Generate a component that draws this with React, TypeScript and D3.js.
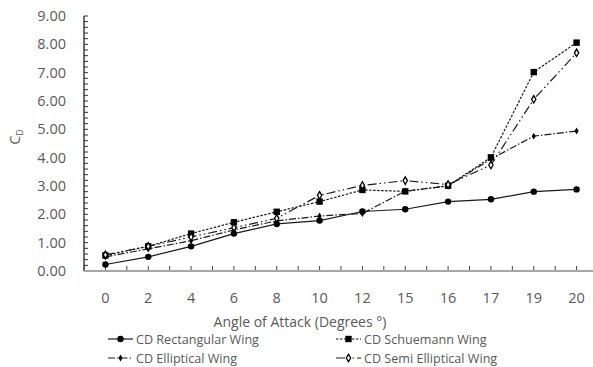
import React, { useRef, useEffect } from "react";
import * as d3 from "d3";

const angles = ["0", "2", "4", "6", "8", "10", "12", "15", "16", "17", "19", "20"];
const rectangular = [0.23, 0.5, 0.87, 1.32, 1.66, 1.78, 2.1, 2.18, 2.45, 2.53, 2.8, 2.88];
const schuemann = [0.55, 0.87, 1.32, 1.72, 2.09, 2.45, 2.86, 2.81, 3.01, 4.01, 7.02, 8.06];
const elliptical = [0.5, 0.78, 1.07, 1.45, 1.77, 1.94, 2.03, 2.82, 3.0, 3.95, 4.76, 4.94];
const semiElliptical = [0.57, 0.87, 1.2, 1.53, 1.86, 2.67, 3.02, 3.19, 3.05, 3.74, 6.06, 7.7];
const yTicks = [0, 1, 2, 3, 4, 5, 6, 7, 8, 9];

const seriesNames = [
  "CD Rectangular Wing",
  "CD Schuemann Wing",
  "CD Elliptical Wing",
  "CD Semi Elliptical Wing",
];

const FONT = "'Open Sans', sans-serif";

function App() {
  const ref = useRef<SVGSVGElement>(null);

  useEffect(() => {
    const svg = d3.select(ref.current);
    svg.selectAll("*").remove();

    const left = 84;
    const right = 598;
    const top = 16;
    const bottom = 271;

    const x = d3.scaleBand().domain(angles).range([left, right]);
    const y = d3.scaleLinear().domain([0, 9]).range([bottom, top]);
    const cx = (a) => x(a) + x.bandwidth() / 2;

    // y minor ticks every 0.2, drawn inside
    const g = svg.append("g");
    d3.range(0, 9.001, 0.2).forEach((v) => {
      g.append("line")
        .attr("x1", left)
        .attr("x2", left + 4)
        .attr("y1", y(v))
        .attr("y2", y(v))
        .attr("stroke", "#333")
        .attr("stroke-width", 1);
    });
    g.append("line")
      .attr("x1", left)
      .attr("x2", left)
      .attr("y1", top)
      .attr("y2", bottom)
      .attr("stroke", "#222")
      .attr("stroke-width", 1.3);

    g.selectAll(".ylab")
      .data(yTicks)
      .enter()
      .append("text")
      .attr("x", 66)
      .attr("y", (d) => y(d) + 5)
      .attr("text-anchor", "end")
      .attr("font-family", FONT)
      .attr("font-size", 14.5)
      .attr("fill", "#595959")
      .text((d) => d.toFixed(2));

    // x axis ticks at band edges and centres
    angles.forEach((a) => {
      [x(a), cx(a)].forEach((px) => {
        g.append("line")
          .attr("x1", px)
          .attr("x2", px)
          .attr("y1", bottom)
          .attr("y2", bottom - 5)
          .attr("stroke", "#444")
          .attr("stroke-width", 1);
      });
    });
    g.append("line")
      .attr("x1", left)
      .attr("x2", right)
      .attr("y1", bottom)
      .attr("y2", bottom)
      .attr("stroke", "#a6a6a6")
      .attr("stroke-width", 2);

    g.selectAll(".xlab")
      .data(angles)
      .enter()
      .append("text")
      .attr("x", (d) => cx(d))
      .attr("y", 303)
      .attr("text-anchor", "middle")
      .attr("font-family", FONT)
      .attr("font-size", 14.5)
      .attr("fill", "#595959")
      .text((d) => d);

    svg
      .append("text")
      .attr("x", 300)
      .attr("y", 327)
      .attr("text-anchor", "middle")
      .attr("font-family", FONT)
      .attr("font-size", 14)
      .attr("fill", "#595959")
      .text("Angle of Attack (Degrees °)");

    const yt = svg
      .append("text")
      .attr("transform", "translate(20,137) rotate(-90)")
      .attr("text-anchor", "middle")
      .attr("font-family", FONT)
      .attr("font-size", 14.5)
      .attr("fill", "#595959");
    yt.append("tspan").text("C");
    yt.append("tspan").attr("font-size", 9).attr("dy", 3).text("D");

    const styles = [
      { dash: null, marker: "circle", data: rectangular },
      { dash: "2.5,1.5", marker: "square", data: schuemann },
      { dash: "7,2,1.5,2", marker: "smallDiamond", data: elliptical },
      { dash: "9,3,1.5,3,1.5,3", marker: "openDiamond", data: semiElliptical },
    ];

    const drawMarker = (sel, kind, px, py) => {
      if (kind === "circle") {
        sel.append("circle").attr("cx", px).attr("cy", py).attr("r", 3.2).attr("fill", "#000");
      } else if (kind === "square") {
        sel
          .append("rect")
          .attr("x", px - 3.2)
          .attr("y", py - 3.2)
          .attr("width", 6.4)
          .attr("height", 6.4)
          .attr("fill", "#000");
      } else if (kind === "smallDiamond") {
        sel
          .append("path")
          .attr("d", d3.symbol(d3.symbolDiamond, 14)())
          .attr("transform", `translate(${px},${py})`)
          .attr("fill", "#000");
      } else {
        sel
          .append("path")
          .attr("d", d3.symbol(d3.symbolDiamond, 16)())
          .attr("transform", `translate(${px},${py})`)
          .attr("fill", "#fff")
          .attr("stroke", "#000")
          .attr("stroke-width", 1.3);
      }
    };

    const line = d3
      .line()
      .x((d) => cx(d[0]))
      .y((d) => y(d[1]));

    const plot = svg.append("g");
    styles.forEach((s) => {
      const pts = angles.map((a, i) => [a, s.data[i]]);
      plot
        .append("path")
        .attr("d", line(pts))
        .attr("fill", "none")
        .attr("stroke", "#1a1a1a")
        .attr("stroke-width", 1.2)
        .attr("stroke-dasharray", s.dash);
    });
    styles.forEach((s) => {
      angles.forEach((a, i) => drawMarker(plot, s.marker, cx(a), y(s.data[i])));
    });

    // legend
    const legendPos = [
      [108, 339],
      [336, 339],
      [108, 358],
      [336, 358],
    ];
    styles.forEach((s, i) => {
      const [lx, ly] = legendPos[i];
      const lg = svg.append("g");
      lg.append("line")
        .attr("x1", lx)
        .attr("x2", lx + 25)
        .attr("y1", ly)
        .attr("y2", ly)
        .attr("stroke", "#1a1a1a")
        .attr("stroke-width", 1.2)
        .attr("stroke-dasharray", s.dash);
      drawMarker(lg, s.marker, lx + 12.5, ly);
      lg.append("text")
        .attr("x", lx + 28)
        .attr("y", ly + 4.5)
        .attr("font-family", FONT)
        .attr("font-size", 12.6)
        .attr("fill", "#595959")
        .text(seriesNames[i]);
    });
  }, []);

  return (
    <svg
      ref={ref}
      width={593}
      height={367}
      style={{ position: "absolute", left: 0, top: 0, background: "#fff" }}
    ></svg>
  );
}

export default App;
